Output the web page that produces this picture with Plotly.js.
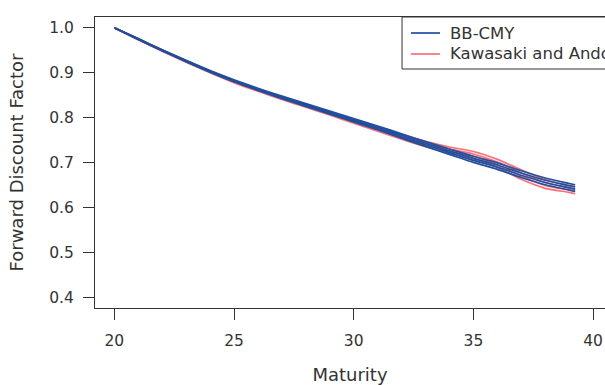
<!DOCTYPE html>
<html>
<head>
<meta charset="utf-8">
<script src="https://cdn.plot.ly/plotly-3.0.1.min.js"></script>
<style>
html,body{margin:0;padding:0;overflow:hidden;background:#fff;}
#chart{width:605px;height:385px;}
</style>
</head>
<body>
<div id="chart"></div>
<script>
// Maturity grid (years)
var maturity = [20,21,22,23,24,25,26,27,28,29,30,31,32,33,34,35,36,37,38,39,39.25];

// BB-CMY forward discount factor curves
var bbcmy1 = [1.000,0.9741,0.9488,0.9245,0.9012,0.8799,0.8606,0.8423,0.8250,0.8077,0.7904,0.7728,0.7542,0.7356,0.7180,0.7003,0.6848,0.6665,0.6505,0.6388,0.6358];
var bbcmy2 = [1.000,0.9747,0.9496,0.9255,0.9024,0.8813,0.8622,0.8441,0.8270,0.8099,0.7928,0.7756,0.7574,0.7392,0.7220,0.7048,0.6896,0.6715,0.6555,0.6436,0.6406];
var bbcmy3 = [1.000,0.9753,0.9504,0.9265,0.9036,0.8827,0.8638,0.8459,0.8290,0.8121,0.7952,0.7784,0.7606,0.7428,0.7260,0.7093,0.6944,0.6765,0.6605,0.6484,0.6454];
var bbcmy4 = [1.000,0.9759,0.9512,0.9275,0.9048,0.8841,0.8654,0.8477,0.8310,0.8143,0.7976,0.7812,0.7638,0.7464,0.7300,0.7138,0.6992,0.6815,0.6655,0.6532,0.6502];

// Kawasaki and Ando forward discount factor curves
var ka1 = [1.000,0.9731,0.9478,0.9235,0.9002,0.8779,0.8586,0.8403,0.8230,0.8057,0.7873,0.7695,0.7518,0.7350,0.7210,0.7080,0.6890,0.6625,0.6425,0.6335,0.6305];
var ka2 = [1.000,0.9737,0.9486,0.9245,0.9014,0.8793,0.8602,0.8421,0.8250,0.8079,0.7898,0.7725,0.7553,0.7390,0.7255,0.7135,0.6950,0.6695,0.6490,0.6385,0.6355];
var ka3 = [1.000,0.9743,0.9494,0.9255,0.9026,0.8807,0.8618,0.8439,0.8270,0.8101,0.7923,0.7755,0.7588,0.7430,0.7300,0.7190,0.7010,0.6765,0.6555,0.6435,0.6405];
var ka4 = [1.000,0.9749,0.9502,0.9265,0.9038,0.8821,0.8634,0.8457,0.8290,0.8123,0.7948,0.7785,0.7623,0.7470,0.7345,0.7245,0.7070,0.6835,0.6620,0.6485,0.6455];

var seriesNames = ["BB-CMY", "Kawasaki and Ando"];
var xTicks = [20,25,30,35,40];
var yTicks = [0.4,0.5,0.6,0.7,0.8,0.9,1.0];

var blue = "#1f4f9e";
var red = "rgba(255,85,95,0.85)";

function tr(y, color, name){
  return {x: maturity, y: y, type: "scatter", mode: "lines",
    line: {color: color, width: 1.7, shape: "spline", smoothing: 0.8},
    name: name, showlegend: false, hoverinfo: "skip"};
}

var data = [
  tr(ka1, red, seriesNames[1]),
  tr(ka2, red, seriesNames[1]),
  tr(ka3, red, seriesNames[1]),
  tr(ka4, red, seriesNames[1]),
  tr(bbcmy1, blue, seriesNames[0]),
  tr(bbcmy2, blue, seriesNames[0]),
  tr(bbcmy3, blue, seriesNames[0]),
  tr(bbcmy4, blue, seriesNames[0])
];

// R-style legend box anchored at the top-right corner of the plot (runs off the page edge like the original)
var legX0 = 0.602, legTextX = 0.692, legLine0 = 0.6196, legLine1 = 0.6765;
var legRowY = [0.945, 0.8729], legBottom = 0.8213;
var legColors = [blue, red];

var shapes = [{type: "rect", xref: "paper", yref: "paper", x0: legX0, x1: 1.2, y0: legBottom, y1: 1,
               line: {color: "#333", width: 1}, fillcolor: "#fff", layer: "above"}];
var annotations = [];
for (var i = 0; i < seriesNames.length; i++) {
  shapes.push({type: "line", xref: "paper", yref: "paper", x0: legLine0, x1: legLine1,
               y0: legRowY[i], y1: legRowY[i], line: {color: legColors[i], width: 1.7}, layer: "above"});
  annotations.push({xref: "paper", yref: "paper", x: legTextX, y: legRowY[i], xanchor: "left", yanchor: "middle",
                    text: seriesNames[i], showarrow: false, font: {size: 16.5, color: "#333"}});
}

var fontFam = "DejaVu Sans, sans-serif";
var layout = {
  width: 605, height: 385,
  margin: {l: 95, r: 0, t: 17, b: 77, autoexpand: false},
  paper_bgcolor: "#fff", plot_bgcolor: "#fff",
  font: {family: fontFam, color: "#333", size: 15},
  showlegend: false,
  xaxis: {
    range: [19.194, 40.497], tickvals: xTicks, ticktext: xTicks.map(String),
    showgrid: false, zeroline: false, showline: true, mirror: true,
    linecolor: "#333", linewidth: 1, ticks: "outside", ticklen: 11, tickcolor: "#333",
    tickfont: {size: 15.5, color: "#333"}, ticklabelstandoff: 7,
    title: {text: "Maturity", font: {size: 18, color: "#333"}, standoff: 19}
  },
  yaxis: {
    range: [0.376, 1.024], tickvals: yTicks, ticktext: yTicks.map(function(v){return v.toFixed(1);}),
    showgrid: false, zeroline: false, showline: true, mirror: false,
    linecolor: "#333", linewidth: 1, ticks: "outside", ticklen: 11, tickcolor: "#333",
    tickfont: {size: 15.5, color: "#333"}, ticklabelstandoff: 6,
    title: {text: "Forward Discount Factor", font: {size: 18, color: "#333"}, standoff: 20}
  },
  shapes: shapes,
  annotations: annotations
};

Plotly.newPlot("chart", data, layout, {displayModeBar: false, staticPlot: true});
</script>
</body>
</html>
